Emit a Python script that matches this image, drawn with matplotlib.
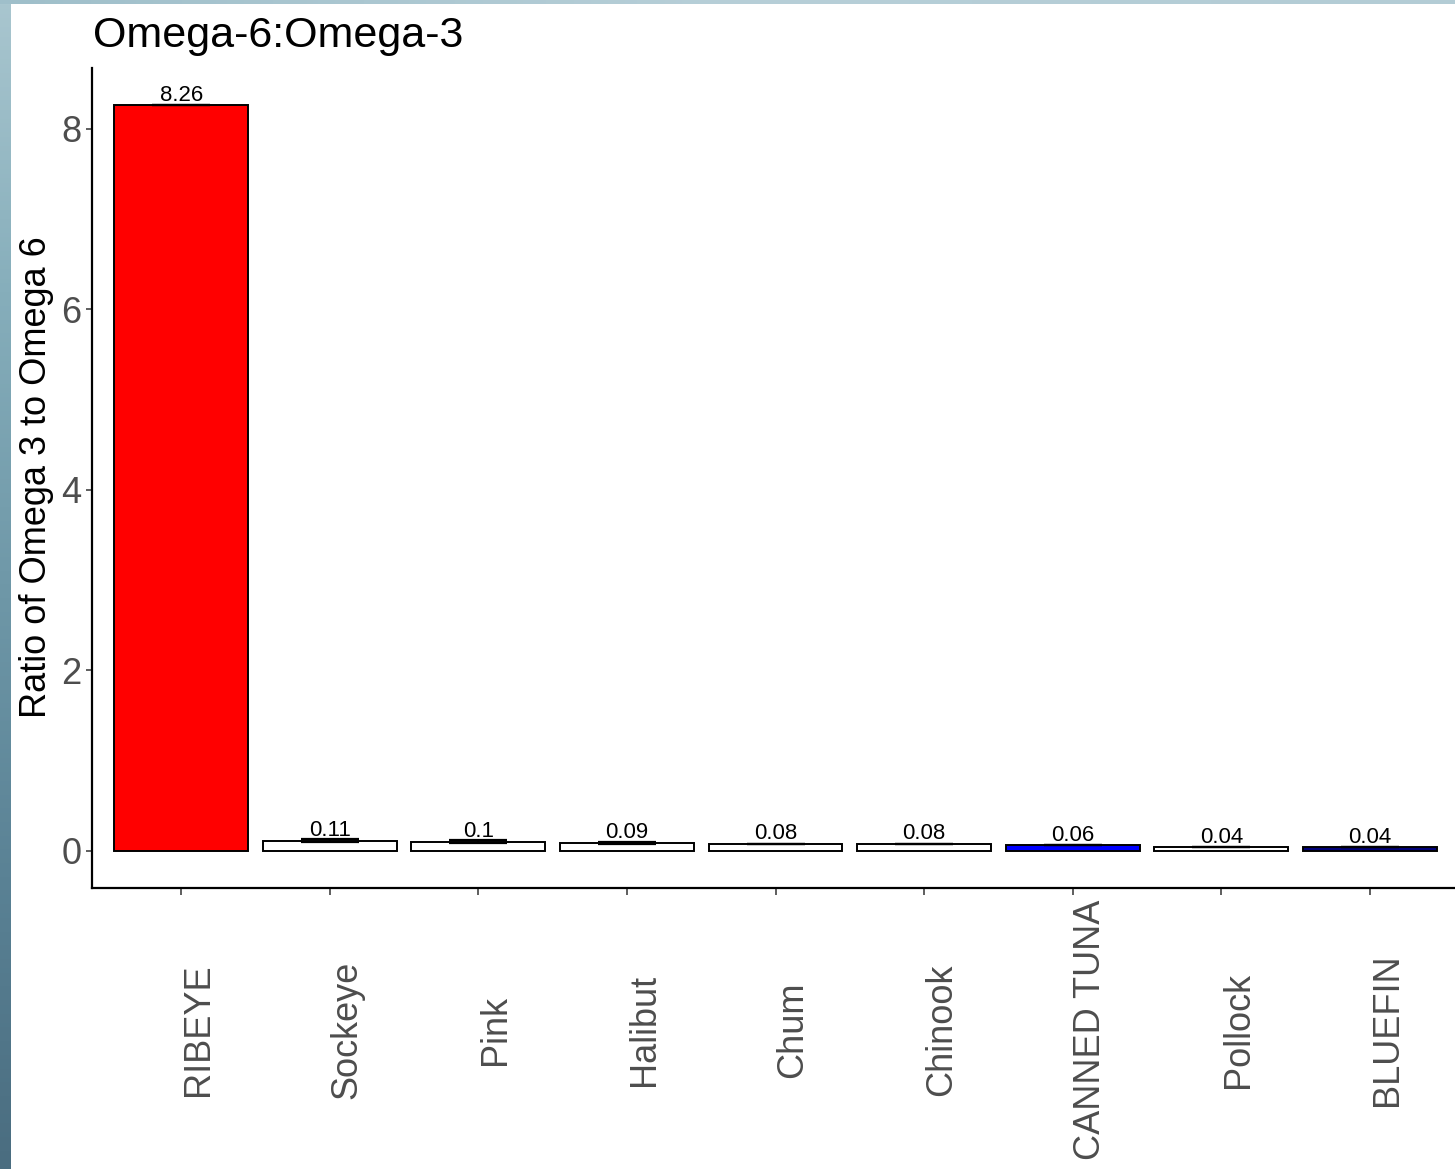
import numpy as np
import matplotlib
matplotlib.use("Agg")
import matplotlib.pyplot as plt
from matplotlib.colors import LinearSegmentedColormap

plt.rcParams['font.family'] = ['Liberation Sans', 'DejaVu Sans']

# Omega-6 : Omega-3 ratios per food
categories = ["RIBEYE", "Sockeye", "Pink", "Halibut", "Chum",
              "Chinook", "CANNED TUNA", "Pollock", "BLUEFIN"]
values = [8.26, 0.11, 0.10, 0.09, 0.08, 0.08, 0.06, 0.04, 0.04]
spread = [0.0, 0.015, 0.015, 0.01, 0.0, 0.0, 0.0, 0.0, 0.0]
fills = ["#ff0000", "white", "white", "white", "white",
         "white", "#0000ff", "white", "#00007a"]
value_labels = ["8.26", "0.11", "0.1", "0.09", "0.08", "0.08", "0.06", "0.04", "0.04"]
yticks = [0, 2, 4, 6, 8]

W, H = 1455, 1169
fig = plt.figure(figsize=(W / 100, H / 100), dpi=100, facecolor="white")

# sea-water frame along the left and top edges
water = LinearSegmentedColormap.from_list(
    "water", ["#a9c6cf", "#86aebb", "#6f98a8", "#5a8295", "#4a6d80"])
edge = fig.add_axes([0, 0, 11 / W, 1])
edge.imshow(np.linspace(0, 1, 256)[:, None], aspect="auto", cmap=water)
edge.set_axis_off()
topband = fig.add_axes([0, 1 - 4 / H, 1, 4 / H])
topband.imshow(np.linspace(0, 1, 256)[None, :], aspect="auto",
               cmap=LinearSegmentedColormap.from_list("t", ["#9fbfca", "#b7cfd8", "#b3ccd5"]))
topband.set_axis_off()

left, right_px, bottom_px, top_px = 92, 1459, 888, 68
ax = fig.add_axes([left / W, 1 - bottom_px / H, (right_px - left) / W, (bottom_px - top_px) / H])
ax.set_facecolor("white")

x = np.arange(len(categories))
ax.bar(x, values, width=0.9, color=fills, edgecolor="black", linewidth=1.4, zorder=2)
ax.errorbar(x, values, yerr=spread, fmt="none", ecolor="black",
            elinewidth=1.4, capsize=21, capthick=1.6, zorder=3)

for xi, v, lab in zip(x, values, value_labels):
    ax.annotate(lab, (xi, v), xytext=(0, -0.5), textcoords="offset points",
                ha="center", va="bottom", fontsize=16, color="black", zorder=4)

ax.set_xlim(-0.6, 8.6)
ax.set_ylim(-0.413, 8.673)
ax.set_yticks(yticks)
ax.set_yticklabels([str(t) for t in yticks], fontsize=26, color="#4d4d4d")
ax.set_xticks(x)
ax.set_xticklabels(categories, rotation=90, fontsize=26, color="#4d4d4d",
                   ha="left", va="center")

for s in ["top", "right"]:
    ax.spines[s].set_visible(False)
for s in ["left", "bottom"]:
    ax.spines[s].set_linewidth(1.6)
    ax.spines[s].set_color("black")

ax.tick_params(axis="y", length=4.5, width=1.1, color="#333333", pad=3)
ax.tick_params(axis="x", length=5, width=1.1, color="#333333", pad=97)

fig.text(93 / W, 1 - 47 / H, "Omega-6:Omega-3", fontsize=31, color="black",
         ha="left", va="baseline")
fig.text(37 / W, 1 - 477 / H, "Ratio of Omega 3 to Omega 6", fontsize=26,
         color="black", rotation=90, ha="center", va="center")

fig.savefig("out.png", dpi=100, facecolor="white")
